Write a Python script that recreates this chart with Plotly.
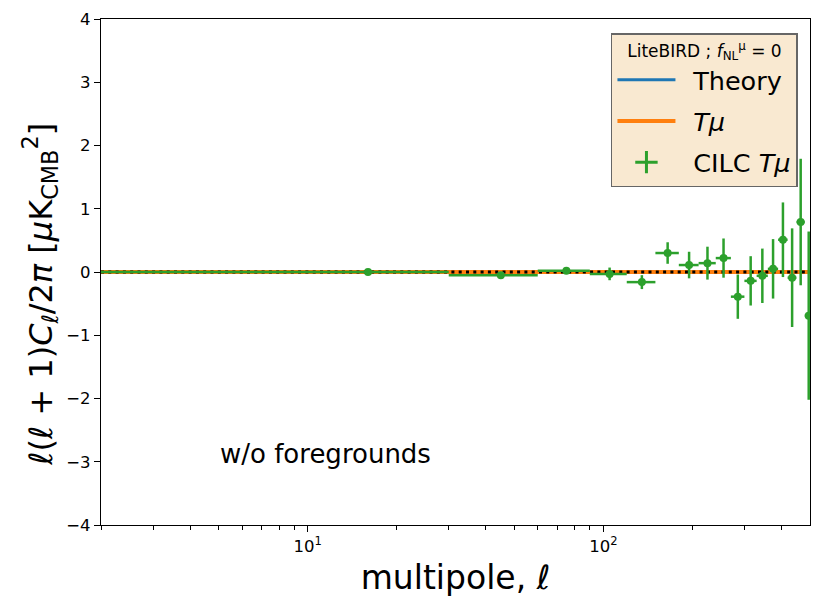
import plotly.graph_objects as go

# Data
ell_bins = [16, 45, 75, 105, 135, 165, 195, 225, 255, 285, 315, 345, 375, 405, 435, 465, 495]
ell_halfwidth = [14, 15, 15, 15, 15, 15, 15, 15, 15, 15, 15, 15, 15, 15, 15, 15, 15]
cilc_tmu = [0.0, -0.05, 0.02, -0.03, -0.16, 0.30, 0.11, 0.14, 0.22, -0.39, -0.14, -0.06, 0.05, 0.51, -0.09, 0.79, -0.69]
cilc_err = [0.01, 0.02, 0.03, 0.10, 0.11, 0.17, 0.21, 0.26, 0.31, 0.35, 0.39, 0.43, 0.47, 0.59, 0.78, 1.00, 1.33]

ell_line = [2, 500]
theory = [0, 0]
tmu = [0, 0]
zero_ref = [0, 0]

x_tickvals = [10, 100]
x_ticktext = ["10<sup>1</sup>", "10<sup>2</sup>"]
x_minor = [2, 3, 4, 5, 6, 7, 8, 9, 20, 30, 40, 50, 60, 70, 80, 90, 200, 300, 400]
y_tickvals = [-4, -3, -2, -1, 0, 1, 2, 3, 4]
y_ticktext = ["\u22124", "\u22123", "\u22122", "\u22121", "0", "1", "2", "3", "4"]

FONT = "DejaVu Sans"
GREEN = "#2ca02c"
SP = "\u2002"

fig = go.Figure()
fig.add_trace(go.Scatter(x=ell_line, y=theory, mode="lines", name=SP + "Theory", legendgroup="a",
                         line=dict(color="#1f77b4", width=3)))
fig.add_trace(go.Scatter(x=ell_line, y=tmu, mode="lines", name=SP + "<i>T\u03bc</i>", legendgroup="b",
                         line=dict(color="#ff7f0e", width=4)))
fig.add_trace(go.Scatter(x=ell_line, y=zero_ref, mode="lines", showlegend=False,
                         line=dict(color="black", width=3, dash="3px,4.3px")))
fig.add_trace(go.Scatter(x=ell_bins, y=cilc_tmu, mode="markers", showlegend=False,
                         marker=dict(color=GREEN, size=8),
                         error_y=dict(type="data", array=cilc_err, color=GREEN, thickness=2.5, width=0),
                         error_x=dict(type="data", array=ell_halfwidth, color=GREEN, thickness=2.5, width=0)))
# legend-only entry with a cross glyph
fig.add_trace(go.Scatter(x=[None], y=[None], mode="markers", name=SP + "CILC <i>T\u03bc</i>", legendgroup="c",
                         marker=dict(symbol="cross-thin", size=16, color=GREEN,
                                     line=dict(color=GREEN, width=3))))

fig.add_annotation(x=0.316, y=0.14, xref="paper", yref="paper", text="w/o foregrounds",
                   xanchor="center", yanchor="middle",
                   showarrow=False, font=dict(size=26, color="black", family=FONT))

# y-axis title as rotated annotation (placed slightly below centre as in the reference)
fig.add_annotation(x=-0.086, y=0.455, xref="paper", yref="paper", textangle=-90,
                   text="<i>\u2113</i>(<i>\u2113</i> + 1)<i>C</i><sub><i>\u2113</i></sub>/2<i>\u03c0</i> [<i>\u03bc</i>K<sub>CMB</sub><sup>2</sup>]",
                   xanchor="center", yanchor="middle", showarrow=False,
                   font=dict(size=32, color="black", family=FONT))

fig.update_layout(
    width=830, height=612,
    margin=dict(l=93, r=28, t=11, b=95, autoexpand=False),
    paper_bgcolor="white", plot_bgcolor="white",
    font=dict(family=FONT, color="black"),
    showlegend=True,
    legend=dict(
        x=0.983, y=0.972, xanchor="right", yanchor="top",
        bgcolor="#F9E9D1", bordercolor="#666666", borderwidth=1.5,
        font=dict(size=25.5, family=FONT),
        title=dict(text="LiteBIRD ; <i>f</i><sub>NL</sub><sup>\u03bc</sup> = 0", side="top center",
                   font=dict(size=17, family=FONT)),
        itemwidth=58,
        traceorder="grouped",
        tracegroupgap=5,
    ),
    xaxis=dict(
        type="log", range=[0.30103, 2.69897], automargin=False,
        showline=True, linecolor="black", linewidth=1.2, mirror=True,
        ticks="outside", ticklen=6, tickcolor="black", tickwidth=1.2,
        tickmode="array", tickvals=x_tickvals, ticktext=x_ticktext,
        tickfont=dict(size=16.5, family=FONT),
        minor=dict(tickmode="array", tickvals=x_minor, ticks="outside", ticklen=3.5, tickcolor="black", tickwidth=1),
        showgrid=False, zeroline=False,
        title=dict(text="multipole, <i>\u2113</i>", font=dict(size=33, family=FONT), standoff=10),
    ),
    yaxis=dict(
        range=[-4, 4], automargin=False,
        showline=True, linecolor="black", linewidth=1.2, mirror=True,
        ticks="outside", ticklen=6, tickcolor="black", tickwidth=1.2,
        tickmode="array", tickvals=y_tickvals, ticktext=y_ticktext,
        tickfont=dict(size=16.5, family=FONT),
        showgrid=False, zeroline=False,
    ),
)

fig.write_html("out.html")
